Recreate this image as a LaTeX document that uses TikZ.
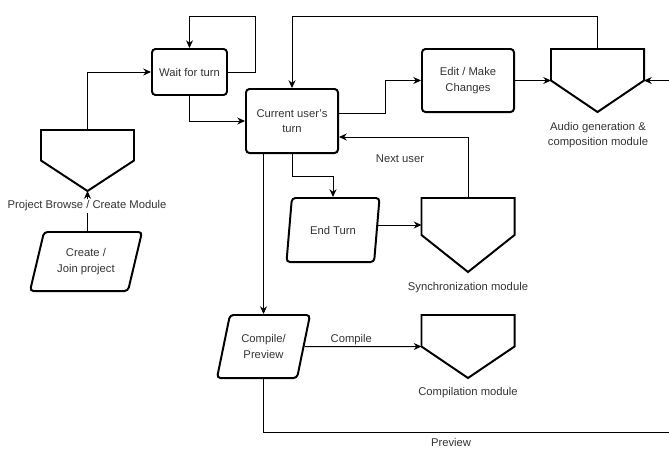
\documentclass[tikz,border=0pt]{standalone}
\usepackage{fontspec}
\setmainfont{Liberation Sans}
\usetikzlibrary{shapes.geometric,arrows.meta,calc,positioning}

\tikzset{
  stepbox/.style={draw, line width=1.4pt, rounded corners=2.5pt, align=center,
    inner sep=1pt, text=black!80},
  inputbox/.style={draw, line width=1.4pt, rounded corners=2.5pt, align=center,
    trapezium, trapezium left angle=64, trapezium right angle=116,
    trapezium stretches body, inner sep=1pt, text=black!80},
  module/.style={inner sep=0pt, outer sep=0pt, minimum width=2.325cm},
  modline/.style={line width=1.4pt, line join=miter},
  lbl/.style={align=center, text=black!80, inner sep=1pt},
  arr/.style={line width=0.7pt, -{Stealth[length=5.5pt,width=5pt]}},
  link/.style={line width=0.7pt},
}

% outline of an off-page module
\newcommand{\modoutline}[1]{%
  \draw [modline] (#1.north west) -- (#1.north east) -- (#1.east) -- (#1.south) -- (#1.west) -- cycle;}

\begin{document}
\begin{tikzpicture}[x=0.025cm, y=-0.025cm]
                \useasboundingbox (0,0) rectangle (669,450);
                {\fontsize{8}{11}\selectfont

                % Step boxes
                \node [stepbox, minimum width=1.875cm, minimum height=1.15cm] (wait) at (189.5,72) {Wait for turn};%
                \node [stepbox, minimum width=2.3cm, minimum height=1.6cm] (cur) at (292,121) {Current user's\\turn};%
                \node [stepbox, minimum width=2.3cm, minimum height=1.575cm] (edit) at (468,80.5) {Edit / Make\\Changes};%

                % Input boxes
                \node [inputbox, minimum width=2.8cm, minimum height=1.475cm] (create) at (86,261.5) {Create /\\Join project};%
                \node [inputbox, minimum width=2.325cm, minimum height=1.6cm] (endt) at (333,230) {End Turn};%
                \node [inputbox, minimum width=2.325cm, minimum height=1.575cm] (compile) at (263.5,346.5) {Compile/\\Preview};%

                % Modules
                \node [module, minimum height=1.525cm] (proj) at (87.5,160.5) {};%
                \modoutline{proj}%
                \node [module, minimum height=1.575cm] (audio) at (597.5,80.5) {};%
                \modoutline{audio}%
                \node [module, minimum height=1.85cm] (sync) at (468,235) {};%
                \modoutline{sync}%
                \node [module, minimum height=1.575cm] (compmod) at (468,346.5) {};%
                \modoutline{compmod}%

                % Free ends
                \coordinate (rin) at (669,80.5);%
                \coordinate (pvend) at (669,432);%
                \coordinate (syncin) at ($(sync.north west)+(0,27)$);%

                % Connectors
                \draw [arr] (wait.east) -- ++(27,0) -- ++(0,-56) -| (wait.north);%
                \draw [arr] (wait.south) |- (cur.west);%
                \draw [arr] (proj.north) |- (wait.west);%
                \draw [arr] (create.north -| proj.south) -- (proj.south);%
                \draw [arr] ($(cur.east)+(0,-8)$) -- ++(46,0) |- (edit.west);%
                \draw [arr] (edit.east) -- (audio.west);%
                \draw [arr] (rin) -- (audio.east);%
                \draw [arr] (audio.north) -- ++(0,-33) -| (cur.north);%
                \draw [arr] (sync.north) |- ($(cur.east)+(0,16)$);%
                \draw [arr] (cur.south) -- ++(0,22) -| (endt.north);%
                \draw [arr] (endt.east |- syncin) -- (syncin);%
                \draw [arr] (cur.south -| compile.north) -- (compile.north);%
                \draw [arr] (compile.east) -- node [lbl, above, pos=0.4] (complbl) {Compile} (compmod.west);%
                \draw [link] (compile.south) |- (pvend);%

                % Labels
                \node [lbl, fill=white] (projlbl) at (87,206) {Project Browse / Create Module};%
                \node [lbl] (audiolbl) at (598,135) {Audio generation \&\\composition module};%
                \node [lbl] (synclbl) at (468,288) {Synchronization module};%
                \node [lbl] (compmodlbl) at (468,393) {Compilation module};%
                \node [lbl] (nextlbl) at (400,159) {Next user};%
                \node [lbl] (pvlbl) at (451,442) {Preview};%
                }
\end{tikzpicture}
\end{document}
